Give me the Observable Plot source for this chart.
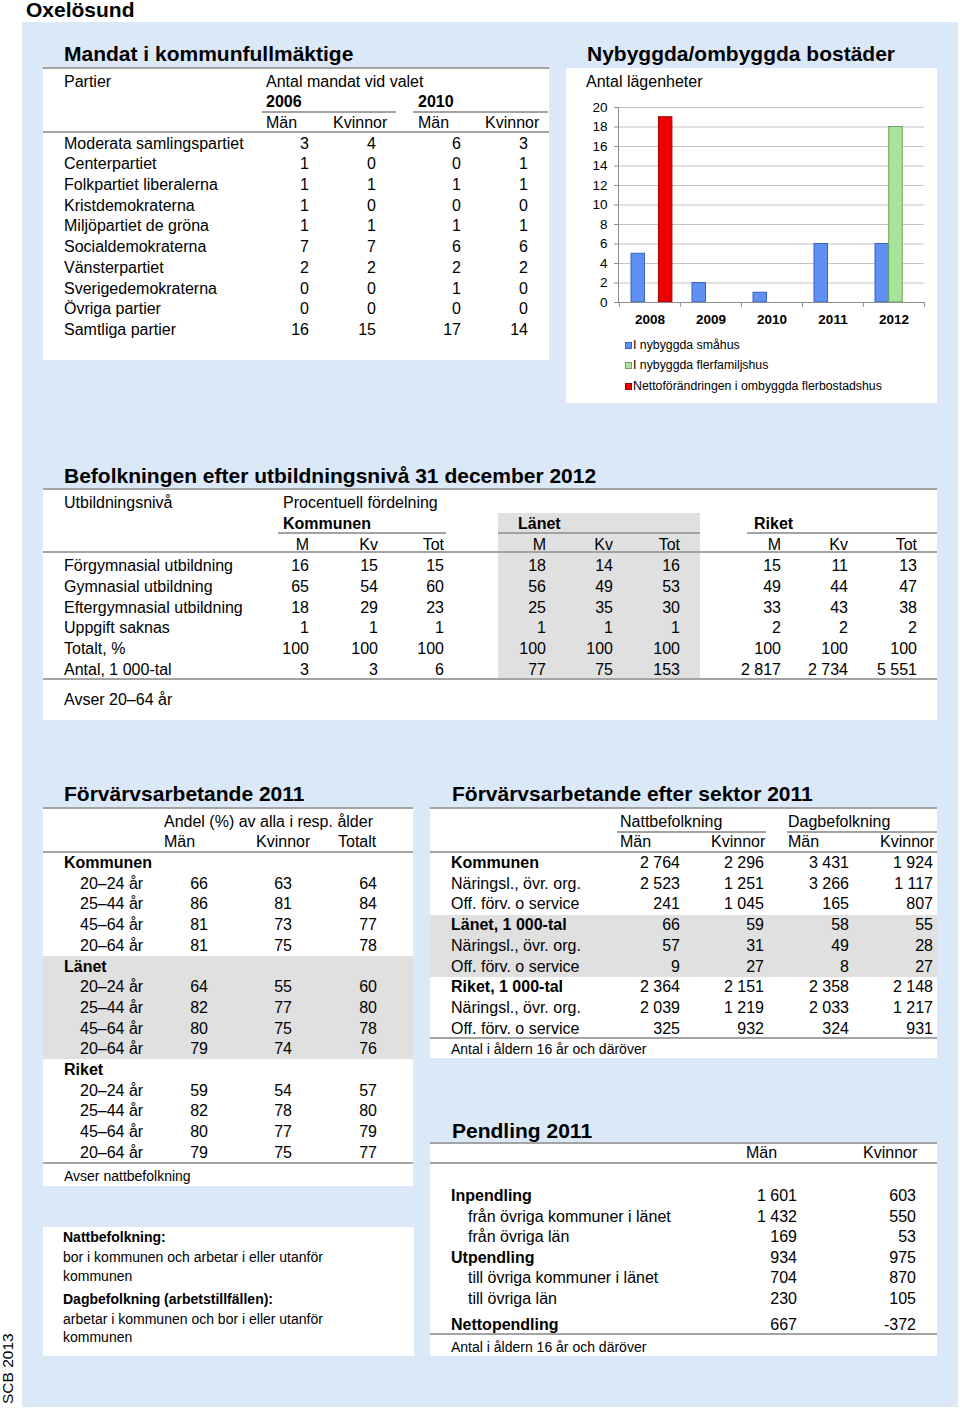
<!DOCTYPE html>
<html>
<head>
<meta charset="utf-8">
<script src="https://cdn.jsdelivr.net/npm/d3@7"></script>
<script src="https://cdn.jsdelivr.net/npm/@observablehq/plot@0.6"></script>
<style>
  html, body { margin: 0; padding: 0; background: #ffffff; }
  body { width: 960px; height: 1410px; position: relative; overflow: hidden;
         font-family: "Liberation Sans", Arial, sans-serif; color: #000; }
  .abs { position: absolute; white-space: nowrap; }
  .panel { position: absolute; background: #dbe8f8; }
  .box { position: absolute; background: #ffffff; }
  .gray { position: absolute; background: #e0e0e0; }
  .rule { position: absolute; height: 2px; background: #a3a3a3; }
</style>
</head>
<body>
<div id="root"></div>
<script>
// ---------------- DATA ----------------
const pageTitle = "Oxelösund";
const creditText = "SCB 2013";

// Mandat i kommunfullmäktige
const mandatParties = ["Moderata samlingspartiet","Centerpartiet","Folkpartiet liberalerna","Kristdemokraterna","Miljöpartiet de gröna","Socialdemokraterna","Vänsterpartiet","Sverigedemokraterna","Övriga partier","Samtliga partier"];
const mandat2006Man = [3,1,1,1,1,7,2,0,0,16];
const mandat2006Kv  = [4,0,1,0,1,7,2,0,0,15];
const mandat2010Man = [6,0,1,0,1,6,2,1,0,17];
const mandat2010Kv  = [3,1,1,0,1,6,2,0,0,14];
const electionYears = ["2006","2010"];

// Nybyggda/ombyggda bostäder
const buildYears = ["2008","2009","2010","2011","2012"];
const buildSeries = ["I nybyggda småhus","I nybyggda flerfamiljshus","Nettoförändringen i ombyggda flerbostadshus"];
const smahus = [5,2,1,6,6];
const flerfamiljshus = [0,0,0,0,18];
const ombyggda = [19,0,0,0,0];
const buildYTicks = [0,2,4,6,8,10,12,14,16,18,20];
const buildFills = ["#5f90f2","#a9e39a","#ee0000"];
const buildStrokes = ["#3a62c0","#6aa45c","#a00000"];

// Befolkningen efter utbildningsnivå
const eduLevels = ["Förgymnasial utbildning","Gymnasial utbildning","Eftergymnasial utbildning","Uppgift saknas","Totalt, %","Antal, 1 000-tal"];
const eduAreas = ["Kommunen","Länet","Riket"];
const eduSubCols = ["M","Kv","Tot"];
const eduKommun = [["16","15","15"],["65","54","60"],["18","29","23"],["1","1","1"],["100","100","100"],["3","3","6"]];
const eduLan    = [["18","14","16"],["56","49","53"],["25","35","30"],["1","1","1"],["100","100","100"],["77","75","153"]];
const eduRiket  = [["15","11","13"],["49","44","47"],["33","43","38"],["2","2","2"],["100","100","100"],["2 817","2 734","5 551"]];

// Förvärvsarbetande 2011
const forvRegions = ["Kommunen","Länet","Riket"];
const forvAges = ["20–24 år","25–44 år","45–64 år","20–64 år"];
const forvMan = [[66,86,81,81],[64,82,80,79],[59,82,80,79]];
const forvKv  = [[63,81,73,75],[55,77,75,74],[54,78,77,75]];
const forvTot = [[64,84,77,78],[60,80,78,76],[57,80,79,77]];

// Förvärvsarbetande efter sektor 2011
const sektorRows = ["Kommunen","Näringsl., övr. org.","Off. förv. o service","Länet, 1 000-tal","Näringsl., övr. org.","Off. förv. o service","Riket, 1 000-tal","Näringsl., övr. org.","Off. förv. o service"];
const sektorBold = [true,false,false,true,false,false,true,false,false];
const nattMan = ["2 764","2 523","241","66","57","9","2 364","2 039","325"];
const nattKv  = ["2 296","1 251","1 045","59","31","27","2 151","1 219","932"];
const dagMan  = ["3 431","3 266","165","58","49","8","2 358","2 033","324"];
const dagKv   = ["1 924","1 117","807","55","28","27","2 148","1 217","931"];

// Pendling 2011
const pendlingRows = ["Inpendling","från övriga kommuner i länet","från övriga län","Utpendling","till övriga kommuner i länet","till övriga län","Nettopendling"];
const pendlingBold = [true,false,false,true,false,false,true];
const pendlingMan = ["1 601","1 432","169","934","704","230","667"];
const pendlingKv  = ["603","550","53","975","870","105","-372"];

// ---------------- HELPERS ----------------
const root = document.getElementById("root");
function el(cls, x, y, w, h) {
  const d = document.createElement("div");
  d.className = cls;
  d.style.left = x + "px"; d.style.top = y + "px";
  if (w != null) d.style.width = w + "px";
  if (h != null) d.style.height = h + "px";
  root.appendChild(d);
  return d;
}
function rect(cls, x1, y1, x2, y2) { return el(cls, x1, y1, x2 - x1, y2 - y1); }
function rule(x1, x2, y) { return el("rule", x1, y - 1, x2 - x1); }
// text with vertical centre at y, left at x
function txt(s, x, y, o = {}) {
  const size = o.size || 16, lh = o.lh || Math.round(size * 1.25);
  const d = el("abs", x, y - lh / 2);
  d.style.fontSize = size + "px";
  d.style.lineHeight = lh + "px";
  if (o.bold) d.style.fontWeight = "bold";
  d.textContent = s;
  return d;
}
// right-aligned text ending at x
function rtxt(s, x, y, o = {}) {
  const d = txt(String(s), x - 200, y, o);
  d.style.width = "200px";
  d.style.textAlign = "right";
  return d;
}

// ---------------- PAGE ----------------
txt(pageTitle, 26, 10, {size: 21, bold: true, lh: 20});
rect("panel", 22, 22, 958, 1407);
const credit = el("abs", 0, 1404);
credit.style.fontSize = "15.5px"; credit.style.lineHeight = "16px";
credit.style.transformOrigin = "0 0"; credit.style.transform = "rotate(-90deg)";
credit.textContent = creditText;

// --- Mandat i kommunfullmäktige ---
txt("Mandat i kommunfullmäktige", 64, 54, {size: 21, bold: true});
rect("box", 43, 68, 549, 360);
rule(43, 549, 68);
txt("Partier", 64, 82);
txt("Antal mandat vid valet", 266, 82);
txt(electionYears[0], 266, 102, {bold: true});
txt(electionYears[1], 418, 102, {bold: true});
rule(262, 396, 112);
rule(413, 548, 112);
txt("Män", 266, 123); txt("Kvinnor", 333, 123);
txt("Män", 418, 123); txt("Kvinnor", 485, 123);
rule(43, 549, 132);
{
  const cols = [309, 376, 461, 528];
  const vals = [mandat2006Man, mandat2006Kv, mandat2010Man, mandat2010Kv];
  mandatParties.forEach((p, i) => {
    const y = 143.5 + i * 20.72;
    txt(p, 64, y);
    vals.forEach((v, c) => rtxt(v[i], cols[c], y));
  });
}

// --- Nybyggda/ombyggda bostäder ---
txt("Nybyggda/ombyggda bostäder", 587, 54, {size: 21, bold: true});
rect("box", 566, 68, 937, 403);
txt("Antal lägenheter", 586, 82);

{
  const W = 372, H = 240, mL = 52, mR = 14, mT = 12, mB = 33;
  const bw = (W - mL - mR) / buildYears.length;
  const padL = 12, barW = 13.7;
  const seriesValues = [smahus, flerfamiljshus, ombyggda];
  const data = buildSeries.flatMap((s, i) =>
    buildYears.map((yr, j) => ({year: yr, series: s, value: seriesValues[i][j]})));
  const last = buildYears[buildYears.length - 1];
  const chart = Plot.plot({
    width: W, height: H,
    marginLeft: mL, marginRight: mR, marginTop: mT, marginBottom: mB,
    style: {fontFamily: "'Liberation Sans', Arial, sans-serif", fontSize: "13px", color: "#000", background: "transparent", overflow: "visible"},
    x: {type: "band", domain: buildYears, padding: 0, label: null},
    y: {domain: [0, 20], label: null},
    color: {domain: buildSeries, range: buildFills},
    marks: [
      Plot.gridY(buildYTicks, {stroke: "#c4c4c4", strokeOpacity: 1}),
      ...buildSeries.map((s, i) => Plot.barY(data.filter(d => d.series === s && d.value > 0), {
        x: "year", y: "value", fill: "series",
        stroke: buildStrokes[i], strokeWidth: 1,
        insetLeft: padL + i * barW,
        insetRight: bw - padL - (i + 1) * barW
      })),
      Plot.ruleY([0], {stroke: "#8c8c8c"}),
      Plot.frame({anchor: "left", stroke: "#8c8c8c"}),
      Plot.ruleX(buildYears, {x: d => d, y1: 0, y2: 0, dx: -bw / 2, insetBottom: -5, stroke: "#8c8c8c"}),
      Plot.ruleX([last], {x: d => d, y1: 0, y2: 0, dx: bw / 2, insetBottom: -5, stroke: "#8c8c8c"}),
      Plot.axisY(buildYTicks, {tickSize: 4, tickPadding: 7, stroke: "#8c8c8c", fill: "#000", fontSize: 13.5, label: null}),
      Plot.axisX({tickSize: 0, tickPadding: 12, fontWeight: "bold", fontSize: 13.5, fill: "#000", label: null})
    ]
  });
  chart.style.position = "absolute";
  chart.style.left = "566px";
  chart.style.top = "95px";
  root.appendChild(chart);

  // legend
  buildSeries.forEach((s, i) => {
    const y = [345, 365.5, 386][i];
    const sq = el("abs", 625, y - 3.5, 5, 5);
    sq.style.background = buildFills[i];
    sq.style.border = "1px solid " + buildStrokes[i];
    txt(s, 633, y, {size: 12.3});
  });
}

// --- Befolkningen efter utbildningsnivå ---
txt("Befolkningen efter utbildningsnivå 31 december 2012", 64, 476, {size: 21, bold: true});
rect("box", 43, 489, 937, 720);
rect("gray", 498, 513, 700, 679);
rule(43, 937, 489);
txt("Utbildningsnivå", 64, 503);
txt("Procentuell fördelning", 283, 503);
txt(eduAreas[0], 283, 524, {bold: true});
txt(eduAreas[1], 518, 524, {bold: true});
txt(eduAreas[2], 754, 524, {bold: true});
rule(278, 446, 533); rule(498, 700, 533); rule(747, 937, 533);
{
  const cols = [309, 378, 444, 546, 613, 680, 781, 848, 917];
  cols.forEach((c, k) => rtxt(eduSubCols[k % 3], c, 545));
  rule(43, 937, 552);
  const blocks = [eduKommun, eduLan, eduRiket];
  eduLevels.forEach((lev, i) => {
    const y = 566 + i * 20.8;
    txt(lev, 64, y);
    blocks.forEach((b, bi) => b[i].forEach((v, k) => rtxt(v, cols[bi * 3 + k], y)));
  });
  rule(43, 937, 679);
  txt("Avser 20–64 år", 64, 700);
}

// --- Förvärvsarbetande 2011 ---
txt("Förvärvsarbetande 2011", 64, 794, {size: 21, bold: true});
rect("box", 43, 808, 413, 1186);
rect("gray", 43, 956, 413, 1059);
rule(43, 413, 808);
txt("Andel (%) av alla i resp. ålder", 164, 822);
txt("Män", 164, 842); txt("Kvinnor", 256, 842); txt("Totalt", 338, 842);
rule(43, 413, 852);
{
  const cols = [208, 292, 377];
  let r = 0;
  forvRegions.forEach((reg, ri) => {
    txt(reg, 64, 863 + r * 20.7, {bold: true}); r++;
    forvAges.forEach((a, ai) => {
      const y = 863 + r * 20.7;
      txt(a, 80, y);
      rtxt(forvMan[ri][ai], cols[0], y);
      rtxt(forvKv[ri][ai], cols[1], y);
      rtxt(forvTot[ri][ai], cols[2], y);
      r++;
    });
  });
  rule(43, 413, 1163);
  txt("Avser nattbefolkning", 64, 1176, {size: 14});
}

// --- Notes box ---
rect("box", 43, 1227, 414, 1356);
txt("Nattbefolkning:", 63, 1237, {size: 14, bold: true});
txt("bor i kommunen och arbetar i eller utanför", 63, 1257, {size: 14});
txt("kommunen", 63, 1276, {size: 14});
txt("Dagbefolkning (arbetstillfällen):", 63, 1299, {size: 14, bold: true});
txt("arbetar i kommunen och bor i eller utanför", 63, 1319, {size: 14});
txt("kommunen", 63, 1337, {size: 14});

// --- Förvärvsarbetande efter sektor 2011 ---
txt("Förvärvsarbetande efter sektor 2011", 452, 794, {size: 21, bold: true});
rect("box", 430, 808, 937, 1058);
rect("gray", 430, 915, 937, 977);
rule(430, 937, 808);
txt("Nattbefolkning", 620, 822);
txt("Dagbefolkning", 788, 822);
rule(617, 766, 832); rule(787, 937, 832);
txt("Män", 620, 842); txt("Kvinnor", 711, 842);
txt("Män", 788, 842); txt("Kvinnor", 880, 842);
rule(430, 937, 852);
{
  const cols = [680, 764, 849, 933];
  const vals = [nattMan, nattKv, dagMan, dagKv];
  sektorRows.forEach((s, i) => {
    const y = 863 + i * 20.7;
    txt(s, 451, y, {bold: sektorBold[i]});
    vals.forEach((v, c) => rtxt(v[i], cols[c], y));
  });
  rule(430, 937, 1038);
  txt("Antal i åldern 16 år och däröver", 451, 1049, {size: 14});
}

// --- Pendling 2011 ---
txt("Pendling 2011", 452, 1131, {size: 21, bold: true});
rect("box", 430, 1143, 937, 1356);
rule(430, 937, 1143);
txt("Män", 746, 1153); txt("Kvinnor", 863, 1153);
rule(430, 937, 1163);
{
  const cols = [797, 916];
  pendlingRows.forEach((s, i) => {
    const y = 1196 + i * 20.6 + (i === pendlingRows.length - 1 ? 5 : 0);
    txt(s, pendlingBold[i] ? 451 : 468, y, {bold: pendlingBold[i]});
    rtxt(pendlingMan[i], cols[0], y);
    rtxt(pendlingKv[i], cols[1], y);
  });
  rule(430, 937, 1334);
  txt("Antal i åldern 16 år och däröver", 451, 1347, {size: 14});
}
</script>
</body>
</html>
